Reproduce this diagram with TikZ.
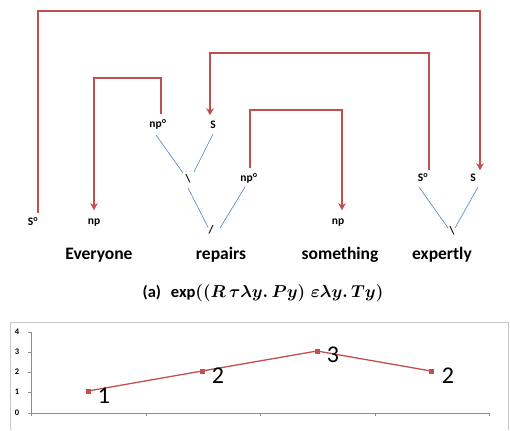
\documentclass[tikz,border=0pt]{standalone}
\usepackage{fontspec}
\usepackage{amsmath,amsbsy}
\setmainfont{Carlito}
\usetikzlibrary{arrows.meta,calc}
\definecolor{redl}{HTML}{C0504D}
\definecolor{bluel}{HTML}{4F81BD}
\definecolor{framegray}{HTML}{C8C8C8}
\definecolor{axisgray}{HTML}{8C8C8C}
\tikzset{
  lab/.style={font=\fontsize{11.5}{12}\selectfont\bfseries, inner sep=0pt, text height=7pt, text depth=2pt},
  word/.style={font=\fontsize{17.5}{19}\selectfont\bfseries, inner sep=0pt, anchor=base},
  redpath/.style={draw=redl, line width=1.8pt},
  redarrow/.style={redpath, -{Stealth[length=7pt,width=7.5pt,inset=2pt]}},
  blueline/.style={draw=bluel, line width=0.6pt},
  ylab/.style={font=\fontsize{8.5}{9}\selectfont\bfseries, inner sep=0pt},
  dlab/.style={font=\fontsize{24}{26}\selectfont, inner sep=0pt},
  marker/.style={fill=redl, minimum size=5pt, inner sep=0pt},
}
\begin{document}
\begin{tikzpicture}[x=1pt,y=1pt]
\useasboundingbox (0,0) rectangle (510,-430);
% category labels
\node[lab] (s0L) at (33,-223) {S\textsuperscript{o}};
\node[lab] (np1) at (94,-222) {np};
\node[lab] (npo1) at (158,-125) {np\textsuperscript{o}};
\node[lab] (S1) at (213,-126) {S};
\node[lab] (bs1) at (188,-180) {\textbackslash};
\node[lab] (npo2) at (249,-179) {np\textsuperscript{o}};
\node[lab] (sl) at (211,-231) {/};
\node[lab] (np2) at (338,-222) {np};
\node[lab] (s0R) at (423,-179) {S\textsuperscript{o}};
\node[lab] (Sr) at (473,-179) {S};
\node[lab] (bs2) at (452,-232) {\textbackslash};
% words
\node[word] (w1) at (99,-259) {Everyone};
\node[word] (w2) at (221,-259) {repairs};
\node[word] (w3) at (340,-259) {something};
\node[word] (w4) at (442,-259) {expertly};
% caption
\node[inner sep=0pt, anchor=base] (cap) at (263,-297) {\fontsize{16.5}{18}\selectfont\bfseries (a)\hspace{0.6em}exp{\boldmath$((R\,\tau\lambda y.\,Py)\;\varepsilon\lambda y.\,Ty)$}};
% corner coordinates of red connectors
\coordinate (t1) at (250,-11);
\coordinate (t2) at (300,-53);
\coordinate (t3) at (130,-78);
\coordinate (t4) at (300,-110);
% red connectors
\draw[redarrow] ([xshift=5pt,yshift=5pt]s0L.north) |- (t1) -| ([xshift=7pt,yshift=4pt]Sr.north);
\draw[redarrow] ([xshift=6pt,yshift=4pt]s0R.north) |- (t2) -| ([xshift=-3pt,yshift=6pt]S1.north);
\draw[redarrow] ([xshift=3pt,yshift=6pt]npo1.north) |- (t3) -| ([yshift=7pt]np1.north);
\draw[redarrow] ([xshift=1pt,yshift=6pt]npo2.north) |- (t4) -| ([xshift=4pt,yshift=7pt]np2.north);
% blue tree lines
\draw[blueline] ([shift={(-2,-10)}]npo1.center) -- ([shift={(-5,7)}]bs1.center);
\draw[blueline] ([shift={(0,-8)}]S1.center) -- ([shift={(6,8)}]bs1.center);
\draw[blueline] ([shift={(0,-8)}]bs1.center) -- ([shift={(-3,4)}]sl.center);
\draw[blueline] ([shift={(-4,-8)}]npo2.center) -- ([shift={(9,3)}]sl.center);
\draw[blueline] ([shift={(-4,-8)}]s0R.center) -- ([shift={(-4,4)}]bs2.center);
\draw[blueline] ([shift={(5,-8)}]Sr.center) -- ([shift={(3,4)}]bs2.center);
% chart frame
\draw[framegray, line width=0.8pt] (10,-430) -- (10,-322) -- (508,-322) -- (508,-430);
% axes
\coordinate (o) at (31,-413);
\draw[axisgray, line width=0.6pt] (31,-332) -- (o) -- (489,-413);
\foreach \y/\v in {413/0,392/1,372/2,352/3,332/4}{
  \draw[axisgray, line width=0.6pt] (28,-\y) -- (31,-\y);
  \node[ylab] (yl\v) at (17,-\y) {\v};
}
\foreach \x in {31,146,260,375,489}{
  \draw[axisgray, line width=0.6pt] (\x,-413) -- (\x,-416);
}
% series
\coordinate (c1) at (88,-391);
\coordinate (c2) at (202,-371);
\coordinate (c3) at (317,-351);
\coordinate (c4) at (431,-371);
\draw[redl, line width=1.3pt] (c1) -- (c2) -- (c3) -- (c4);
\node[marker] (p1) at (c1) {};
\node[marker] (p2) at (c2) {};
\node[marker] (p3) at (c3) {};
\node[marker] (p4) at (c4) {};
\node[dlab] (d1) at (104,-396) {1};
\node[dlab] (d2) at (218,-376) {2};
\node[dlab] (d3) at (333,-355) {3};
\node[dlab] (d4) at (448,-376) {2};
\end{tikzpicture}
\end{document}
